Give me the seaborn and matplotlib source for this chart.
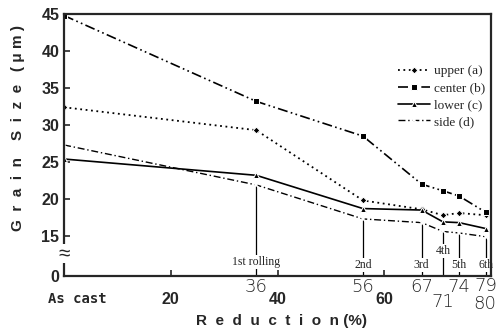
import matplotlib
matplotlib.use("Agg")
import matplotlib.pyplot as plt
import seaborn as sns
import numpy as np
import pandas as pd

# reduction (%) for each stage: as cast, then the six rolling passes
reduction = [0, 36, 56, 67, 71, 74, 79]
upper = [32.4, 29.3, 19.8, 18.6, 17.8, 18.1, 17.8]
center = [44.8, 33.2, 28.5, 22.0, 21.1, 20.4, 18.2]
lower = [25.4, 23.2, 18.7, 18.5, 16.9, 16.8, 16.0]
side = [27.3, 21.9, 17.3, 16.8, 15.6, 15.4, 14.9]

series_names = ["upper (a)", "center (b)", "lower (c)", "side (d)"]

pass_x = [36, 56, 67, 71, 74, 79]
pass_labels = ["1st rolling", "2nd", "3rd", "4th", "5th", "6th"]
pass_label_y = [11.5, 11.1, 11.1, 13.0, 11.1, 11.1]

y_ticks = [9.6, 15, 20, 25, 30, 35, 40, 45]
y_tick_labels = ["0", "15", "20", "25", "30", "35", "40", "45"]

x_plain_ticks = [20, 40, 60]
x_pass_ticks = [36, 56, 67, 71, 74, 79]
x_pass_offsets = [-8, -8, -8, -19, -8, -7]

df = pd.DataFrame({"reduction": reduction * 4,
                   "size": upper + center + lower + side,
                   "series": np.repeat(series_names, len(reduction))})

sns.set_style("ticks")
plt.rcParams["font.family"] = ["Liberation Sans", "DejaVu Sans"]

fig = plt.figure(figsize=(4.97, 3.36), dpi=100)
ax = fig.add_axes([0.129, 0.179, 0.859, 0.779])

styles = {
    "upper (a)": dict(linestyle=(0, (1, 2)), marker="D", markersize=3.5, lw=1.3),
    "center (b)": dict(linestyle=(0, (6, 2, 1, 2, 1, 2)), marker="s", markersize=4, lw=1.2),
    "lower (c)": dict(linestyle="-", marker="^", markersize=4.5, lw=1.2),
    "side (d)": dict(linestyle=(0, (5, 2, 1, 2)), marker="x", markersize=4.5, lw=1.0, mew=1.2),
}
for name in series_names:
    sub = df[df["series"] == name]
    sns.lineplot(data=sub, x="reduction", y="size", ax=ax, color="black",
                 label=name, **styles[name])

# vertical guide lines from the side points down to the axis, with pass labels
for xv, lab, ly in zip(pass_x, pass_labels, pass_label_y):
    yv = side[reduction.index(xv)]
    ax.vlines(xv, y_ticks[0], yv, color="black", lw=0.9, zorder=1)
    ax.text(xv, ly, lab, ha="center", va="center", fontsize=8.5,
            family=["Liberation Serif"],
            bbox=dict(facecolor="white", edgecolor="none", pad=0.6), zorder=2)

ax.set_xlim(0, 80)
ax.set_ylim(y_ticks[0], 45)
ax.set_yticks(y_ticks)
ax.set_yticklabels(y_tick_labels, fontsize=11.5, fontweight="bold")
ax.set_xticks(x_plain_ticks)
ax.set_xticklabels([])
ax.tick_params(direction="in", length=4, width=1.2)
for s in ax.spines.values():
    s.set_linewidth(1.6)
    s.set_visible(True)

# axis break mark
ax.text(0, 12.6, "≈", ha="center", va="center", fontsize=15,
        bbox=dict(facecolor="white", edgecolor="none", pad=0.2), clip_on=False)

tr = ax.get_xaxis_transform()
ax.text(2.4, -0.09, "As cast", transform=tr, ha="center", va="center",
        fontsize=10, fontweight="bold", family=["DejaVu Sans Mono"])
for xv in x_plain_ticks:
    ax.text(xv, -0.09, str(xv), transform=tr, ha="center", va="center",
            fontsize=11.5, fontweight="bold")
# "80" sits at the right edge, below the 79 label
ax.text(0.999, 0.095, "80", transform=fig.transFigure, ha="right", va="center",
        fontsize=13, fontweight="light", family=["DejaVu Sans"])
for xv, off in zip(x_pass_ticks, x_pass_offsets):
    ax.annotate(str(xv), xy=(xv, 0), xycoords=tr, xytext=(0, off),
                textcoords="offset points", ha="center", va="center",
                fontsize=13, fontweight="light", family=["DejaVu Sans"],
                annotation_clip=False)

ax.set_xlabel("")
ax.set_ylabel("")
fig.text(0.567, 0.045, "R  e  d  u  c  t  i  o  n (%)", ha="center", va="center",
         fontsize=11, fontweight="bold")
fig.text(0.036, 0.62, "G  r  a  i  n    S  i  z  e   ( μ m )", ha="center",
         va="center", rotation=90, fontsize=11, fontweight="bold")

leg = ax.legend(loc="upper left", bbox_to_anchor=(0.755, 0.85), frameon=False,
                prop={"family": "Liberation Serif", "size": 9.5},
                handlelength=2.4, handletextpad=0.3, labelspacing=0.35)

fig.savefig("out.png", dpi=100)
